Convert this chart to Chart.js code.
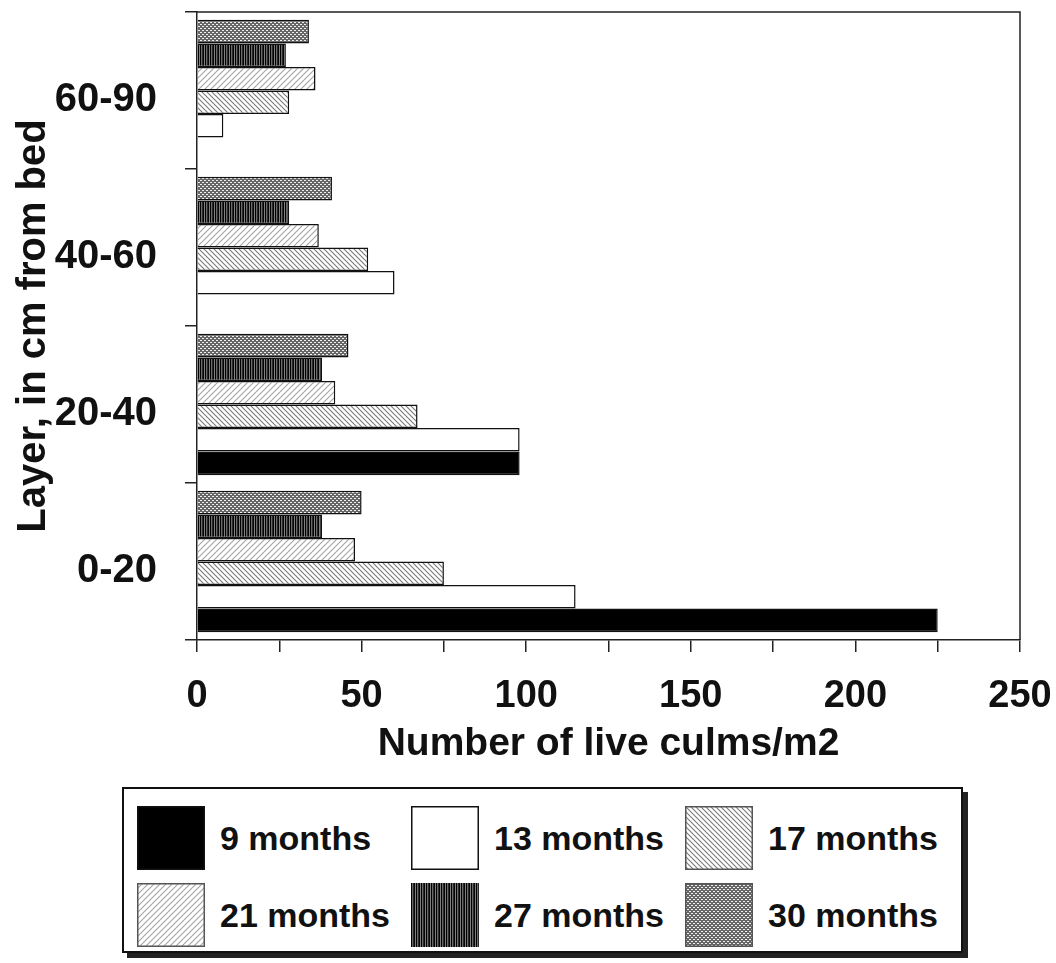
<!DOCTYPE html>
<html>
<head>
<meta charset="utf-8">
<title>Live culms by layer</title>
<script src="https://cdn.jsdelivr.net/npm/chart.js@4.4.1/dist/chart.umd.min.js"></script>
<style>
  body { margin: 0; background: #fff; }
  #wrap { position: relative; width: 1056px; height: 963px; }
  #legend {
    position: absolute; left: 122px; top: 787px; width: 837px; height: 162px;
    border: 2px solid #111; box-shadow: 5px 5px 0 #222; background: #fff;
  }
  .item { position: absolute; display: flex; align-items: center; }
  .item canvas { display: block; }
  .item span { font: bold 34px "Liberation Sans", Arial, sans-serif; color: #111; margin-left: 15px; }
</style>
</head>
<body>
<div id="wrap">
  <canvas id="chart" width="1056" height="780"></canvas>
  <div id="legend"></div>
</div>
<script>
// layers listed top to bottom, values in the same order
const layers = ['60-90', '40-60', '20-40', '0-20'];
const seriesNames = ['9 months', '13 months', '17 months', '21 months', '27 months', '30 months'];
const months9  = [0, 0, 98, 225];
const months13 = [8, 60, 98, 115];
const months17 = [28, 52, 67, 75];
const months21 = [36, 37, 42, 48];
const months27 = [27, 28, 38, 38];
const months30 = [34, 41, 46, 50];
const xTickLabels = [0, 50, 100, 150, 200, 250];

const seriesValues = [months9, months13, months17, months21, months27, months30];
const fontFamily = '"Liberation Sans", Arial, sans-serif';

// small repeating tiles for the halftone fills
function hatchTile(dir, s, color) {
    const c = document.createElement('canvas');
    c.width = s; c.height = s;
    const g = c.getContext('2d');
    g.fillStyle = '#fff';
    g.fillRect(0, 0, s, s);
    g.strokeStyle = color;
    g.lineWidth = 1.1;
    g.beginPath();
    if (dir === '\\') {
        g.moveTo(0, 0); g.lineTo(s, s);
        g.moveTo(-1, s - 1); g.lineTo(1, s + 1);
        g.moveTo(s - 1, -1); g.lineTo(s + 1, 1);
    } else {
        g.moveTo(0, s); g.lineTo(s, 0);
        g.moveTo(-1, 1); g.lineTo(1, -1);
        g.moveTo(s - 1, s + 1); g.lineTo(s + 1, s - 1);
    }
    g.stroke();
    return c;
}

function stripeTile() {
    const cols = ['#000', '#6a6a6a', '#2a2a2a', '#050505', '#808080'];
    const c = document.createElement('canvas');
    c.width = cols.length; c.height = 1;
    const g = c.getContext('2d');
    cols.forEach((col, i) => { g.fillStyle = col; g.fillRect(i, 0, 1, 1); });
    return c;
}

function dotTile() {
    const c = document.createElement('canvas');
    c.width = 4; c.height = 4;
    const g = c.getContext('2d');
    g.fillStyle = '#666';
    g.fillRect(0, 0, 4, 4);
    g.fillStyle = '#f0f0f0';
    g.fillRect(0, 0, 2, 1);
    g.fillRect(2, 2, 2, 1);
    return c;
}

const tiles = [null, null, hatchTile('\\', 5, '#7a7a7a'), hatchTile('/', 6, '#a4a4a4'), stripeTile(), dotTile()];
const plainFills = ['#000', '#fff'];

function fillFor(ctx, i) {
    return tiles[i] ? ctx.createPattern(tiles[i], 'repeat') : plainFills[i];
}

const ctx = document.getElementById('chart').getContext('2d');

// 9 months sits at the bottom of each group, so feed the datasets in reverse
const datasets = seriesNames.map((name, i) => ({
    label: name,
    data: seriesValues[i],
    backgroundColor: fillFor(ctx, i),
    borderColor: '#111',
    borderWidth: 1.5
})).reverse();

const frame = {
    id: 'frame',
    afterDraw(chart) {
        const { left, top, right, bottom } = chart.chartArea;
        const c = chart.ctx;
        c.save();
        c.strokeStyle = '#222';
        c.lineWidth = 1.5;
        c.beginPath();
        c.moveTo(left, top);
        c.lineTo(right, top);
        c.lineTo(right, bottom);
        c.stroke();
        c.restore();
    }
};

new Chart(ctx, {
    type: 'bar',
    data: { labels: layers, datasets: datasets },
    plugins: [frame],
    options: {
        indexAxis: 'y',
        responsive: false,
        animation: false,
        layout: {
            padding: { top: 12, right: 36, bottom: 0, left: 0 }
        },
        datasets: {
            bar: { categoryPercentage: 0.9, barPercentage: 1.0 }
        },
        plugins: {
            legend: { display: false },
            tooltip: { enabled: false }
        },
        scales: {
            x: {
                min: 0,
                max: 250,
                ticks: {
                    stepSize: 25,
                    autoSkip: false,
                    maxRotation: 0,
                    padding: 22,
                    color: '#111',
                    font: { family: fontFamily, size: 38, weight: 'bold' },
                    callback: (v) => xTickLabels.includes(v) ? String(v) : ''
                },
                grid: { drawOnChartArea: false, tickLength: 12, color: '#222', lineWidth: 1.5 },
                border: { color: '#222', width: 1.5 },
                title: {
                    display: true,
                    text: 'Number of live culms/m2',
                    color: '#111',
                    font: { family: fontFamily, size: 39, weight: 'bold' },
                    padding: { top: 0, bottom: 12 }
                },
                afterFit: (s) => { s.height = 140; s.paddingLeft = 0; s.paddingRight = 0; }
            },
            y: {
                ticks: {
                    padding: 28,
                    labelOffset: 9,
                    color: '#111',
                    font: { family: fontFamily, size: 40, weight: 'bold' }
                },
                grid: { drawOnChartArea: false, tickLength: 12, color: '#222', lineWidth: 1.5 },
                border: { color: '#222', width: 1.5 },
                title: {
                    display: true,
                    text: 'Layer, in cm from bed',
                    color: '#111',
                    font: { family: fontFamily, size: 40, weight: 'bold' },
                    padding: { top: 10, bottom: 0 }
                },
                afterFit: (s) => { s.width = 197; s.paddingTop = 0; s.paddingBottom = 0; }
            }
        }
    }
});

// legend: 3 columns x 2 rows
const legend = document.getElementById('legend');
seriesNames.forEach((name, i) => {
    const item = document.createElement('div');
    item.className = 'item';
    item.style.left = (13 + (i % 3) * 274) + 'px';
    item.style.top = (17 + Math.floor(i / 3) * 77) + 'px';
    const sw = document.createElement('canvas');
    sw.width = 68; sw.height = 64;
    const g = sw.getContext('2d');
    g.fillStyle = fillFor(g, i);
    g.fillRect(0, 0, 68, 64);
    if (i !== 4) {
        g.strokeStyle = i < 2 ? '#111' : '#555';
        g.lineWidth = 1.5;
        g.strokeRect(0.75, 0.75, 66.5, 62.5);
    }
    const label = document.createElement('span');
    label.textContent = name;
    item.appendChild(sw);
    item.appendChild(label);
    legend.appendChild(item);
});
</script>
</body>
</html>
